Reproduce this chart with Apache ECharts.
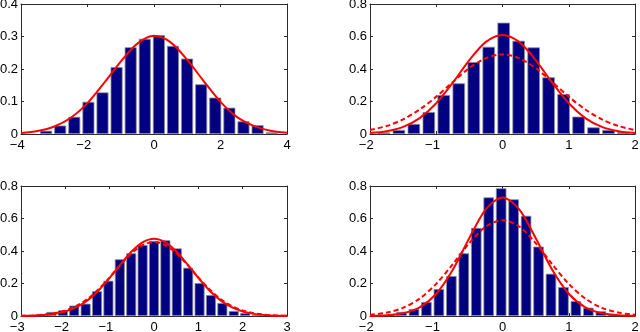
<!DOCTYPE html>
<html>
<head>
<meta charset="utf-8">
<script src="https://cdn.jsdelivr.net/npm/echarts@6/dist/echarts.min.js"></script>
<style>
html,body{margin:0;padding:0;background:#fff;}
#c{width:640px;height:332px;}
</style>
</head>
<body>
<div id="c"></div>
<script>
// ---------- Panel 1 (top-left) ----------
const p1BinCenters = [-3.245,-2.821,-2.397,-1.973,-1.549,-1.125,-0.701,-0.277,0.147,0.571,0.995,1.419,1.843,2.267,2.691,3.115,3.539];
const p1BinHeights = [0.010,0.026,0.053,0.099,0.128,0.206,0.267,0.293,0.304,0.271,0.232,0.153,0.112,0.081,0.039,0.027,0.005];
const p1CurveX = [-4,-3.5,-3,-2.5,-2,-1.5,-1,-0.5,0,0.5,1,1.5,2,2.5,3,3.5,4];
const p1Solid = [0.003,0.009,0.023,0.050,0.095,0.157,0.223,0.278,0.302,0.282,0.228,0.162,0.099,0.052,0.025,0.010,0.004];
const p1XTicks = [-4,-2,0,2,4];
const p1YTicks = [0,0.1,0.2,0.3,0.4];

// ---------- Panel 2 (top-right) ----------
const p2BinCenters = [-1.790,-1.564,-1.338,-1.112,-0.886,-0.660,-0.434,-0.208,0.018,0.244,0.470,0.696,0.922,1.148,1.374,1.600,1.826];
const p2BinHeights = [0.010,0.025,0.062,0.135,0.240,0.312,0.443,0.537,0.685,0.574,0.533,0.349,0.246,0.107,0.041,0.025,0.012];
const p2CurveX = [-2,-1.75,-1.5,-1.25,-1,-0.75,-0.5,-0.25,0,0.25,0.5,0.75,1,1.25,1.5,1.75,2];
const p2Solid = [0.006,0.017,0.044,0.098,0.189,0.316,0.455,0.567,0.610,0.567,0.455,0.316,0.189,0.098,0.044,0.017,0.006];
const p2Dashed = [0.024,0.049,0.090,0.151,0.230,0.320,0.406,0.467,0.490,0.467,0.406,0.320,0.230,0.151,0.090,0.049,0.024];
const p2XTicks = [-2,-1,0,1,2];
const p2YTicks = [0,0.2,0.4,0.6,0.8];

// ---------- Panel 3 (bottom-left) ----------
const p3BinCenters = [-2.570,-2.313,-2.056,-1.799,-1.542,-1.285,-1.028,-0.771,-0.514,-0.257,0,0.257,0.514,0.771,1.028,1.285,1.542,1.799,2.056,2.313];
const p3BinHeights = [0.010,0.025,0.035,0.064,0.076,0.152,0.217,0.349,0.386,0.437,0.462,0.466,0.416,0.297,0.203,0.129,0.080,0.031,0.018,0.006];
const p3CurveX = [-3,-2.75,-2.5,-2.25,-2,-1.75,-1.5,-1.25,-1,-0.75,-0.5,-0.25,0,0.25,0.5,0.75,1,1.25,1.5,1.75,2,2.25,2.5,2.75,3];
const p3Solid = [0.001,0.002,0.006,0.013,0.028,0.054,0.096,0.157,0.234,0.319,0.398,0.454,0.475,0.454,0.398,0.319,0.234,0.157,0.096,0.054,0.028,0.013,0.006,0.002,0.001];
const p3Dashed = [0.001,0.003,0.008,0.017,0.034,0.062,0.105,0.165,0.238,0.316,0.387,0.437,0.455,0.437,0.387,0.316,0.238,0.165,0.105,0.062,0.034,0.017,0.008,0.003,0.001];
const p3XTicks = [-3,-2,-1,0,1,2,3];
const p3YTicks = [0,0.2,0.4,0.6,0.8];

// ---------- Panel 4 (bottom-right) ----------
const p4BinCenters = [-1.524,-1.336,-1.148,-0.960,-0.772,-0.584,-0.396,-0.208,-0.020,0.168,0.356,0.544,0.732,0.920,1.108,1.296,1.484,1.672];
const p4BinHeights = [0.025,0.043,0.086,0.166,0.246,0.386,0.542,0.730,0.786,0.718,0.617,0.427,0.260,0.178,0.092,0.051,0.029,0.012];
const p4CurveX = [-2,-1.75,-1.5,-1.25,-1,-0.75,-0.5,-0.25,0,0.25,0.5,0.75,1,1.25,1.5,1.75,2];
const p4Solid = [0.001,0.004,0.017,0.053,0.137,0.285,0.480,0.658,0.730,0.658,0.480,0.285,0.137,0.053,0.017,0.004,0.001];
const p4Dashed = [0.007,0.021,0.050,0.107,0.198,0.319,0.449,0.551,0.590,0.551,0.449,0.319,0.198,0.107,0.050,0.021,0.007];
const p4XTicks = [-2,-1,0,1,2];
const p4YTicks = [0,0.2,0.4,0.6,0.8];

const panels = [
  {grid:{left:21,top:4,width:266,height:130}, centers:p1BinCenters, heights:p1BinHeights, cx:p1CurveX, solid:p1Solid, dashed:null, xt:p1XTicks, yt:p1YTicks, barW:12},
  {grid:{left:370,top:4,width:265,height:130}, centers:p2BinCenters, heights:p2BinHeights, cx:p2CurveX, solid:p2Solid, dashed:p2Dashed, xt:p2XTicks, yt:p2YTicks, barW:12.5},
  {grid:{left:21,top:186,width:266,height:130}, centers:p3BinCenters, heights:p3BinHeights, cx:p3CurveX, solid:p3Solid, dashed:p3Dashed, xt:p3XTicks, yt:p3YTicks, barW:10},
  {grid:{left:370,top:186,width:265,height:130}, centers:p4BinCenters, heights:p4BinHeights, cx:p4CurveX, solid:p4Solid, dashed:p4Dashed, xt:p4XTicks, yt:p4YTicks, barW:10.5}
];

const AX = '#2a2a2a';
const FF = 'Liberation Sans, Arial, Helvetica, sans-serif';
const FONT = {fontFamily:FF, fontSize:13, color:'#000'};
function numStr(v){
  if (Math.abs(v) < 1e-9) return '0';
  return String(Math.round(Math.abs(v)*1000)/1000);
}
function fmtY(v){ return numStr(v); }
function fmtX(v){
  // digit centred on the tick, minus sign hanging to the left
  if (v < -1e-9) return '{a|\u2212' + numStr(v) + '}{h|\u2212}';
  return '{a|' + numStr(v) + '}';
}
const richX = {
  a:{fontFamily:FF, fontSize:13, color:'#000'},
  h:{fontFamily:FF, fontSize:13, color:'rgba(0,0,0,0)'}
};

const option = {animation:false, backgroundColor:'#fff', grid:[], xAxis:[], yAxis:[], series:[]};
panels.forEach((p,i)=>{
  option.grid.push(Object.assign({containLabel:false, outerBoundsMode:'none'}, p.grid));
  const xmin = p.xt[0], xmax = p.xt[p.xt.length-1], xint = p.xt[1]-p.xt[0];
  const ymin = p.yt[0], ymax = p.yt[p.yt.length-1], yint = p.yt[1]-p.yt[0];
  const common = {
    axisLine:{show:true, onZero:false, lineStyle:{color:AX, width:1}},
    axisTick:{show:true, inside:true, length:3, lineStyle:{color:AX}},
    splitLine:{show:false}
  };
  option.xAxis.push(Object.assign({type:'value', gridIndex:i, position:'bottom', min:xmin, max:xmax, interval:xint,
    axisLabel:Object.assign({show:true, margin:5, formatter:fmtX, rich:richX}, FONT)}, common));
  option.xAxis.push(Object.assign({type:'value', gridIndex:i, position:'top', min:xmin, max:xmax, interval:xint,
    axisLabel:{show:false}}, common));
  option.yAxis.push(Object.assign({type:'value', gridIndex:i, position:'left', min:ymin, max:ymax, interval:yint,
    axisLabel:Object.assign({show:true, margin:3, formatter:fmtY}, FONT)}, common));
  option.yAxis.push(Object.assign({type:'value', gridIndex:i, position:'right', min:ymin, max:ymax, interval:yint,
    axisLabel:{show:false}}, common));
  option.series.push({
    type:'bar', xAxisIndex:2*i, yAxisIndex:2*i, barWidth:p.barW,
    data:p.centers.map((c,k)=>[c,p.heights[k]]),
    itemStyle:{color:'#000080', borderColor:'#8a8a9a', borderWidth:0.8},
    z:2
  });
  if (p.dashed) option.series.push({
    type:'line', xAxisIndex:2*i, yAxisIndex:2*i, smooth:0.3, showSymbol:false, symbol:'none',
    data:p.cx.map((x,k)=>[x,p.dashed[k]]),
    lineStyle:{color:'#ff0000', width:2, type:[5,3]}, z:3
  });
  option.series.push({
    type:'line', xAxisIndex:2*i, yAxisIndex:2*i, smooth:0.3, showSymbol:false, symbol:'none',
    data:p.cx.map((x,k)=>[x,p.solid[k]]),
    lineStyle:{color:'#ff0000', width:2}, z:4
  });
});

const chart = echarts.init(document.getElementById('c'), null, {renderer:'canvas'});
chart.setOption(option);
</script>
</body>
</html>
